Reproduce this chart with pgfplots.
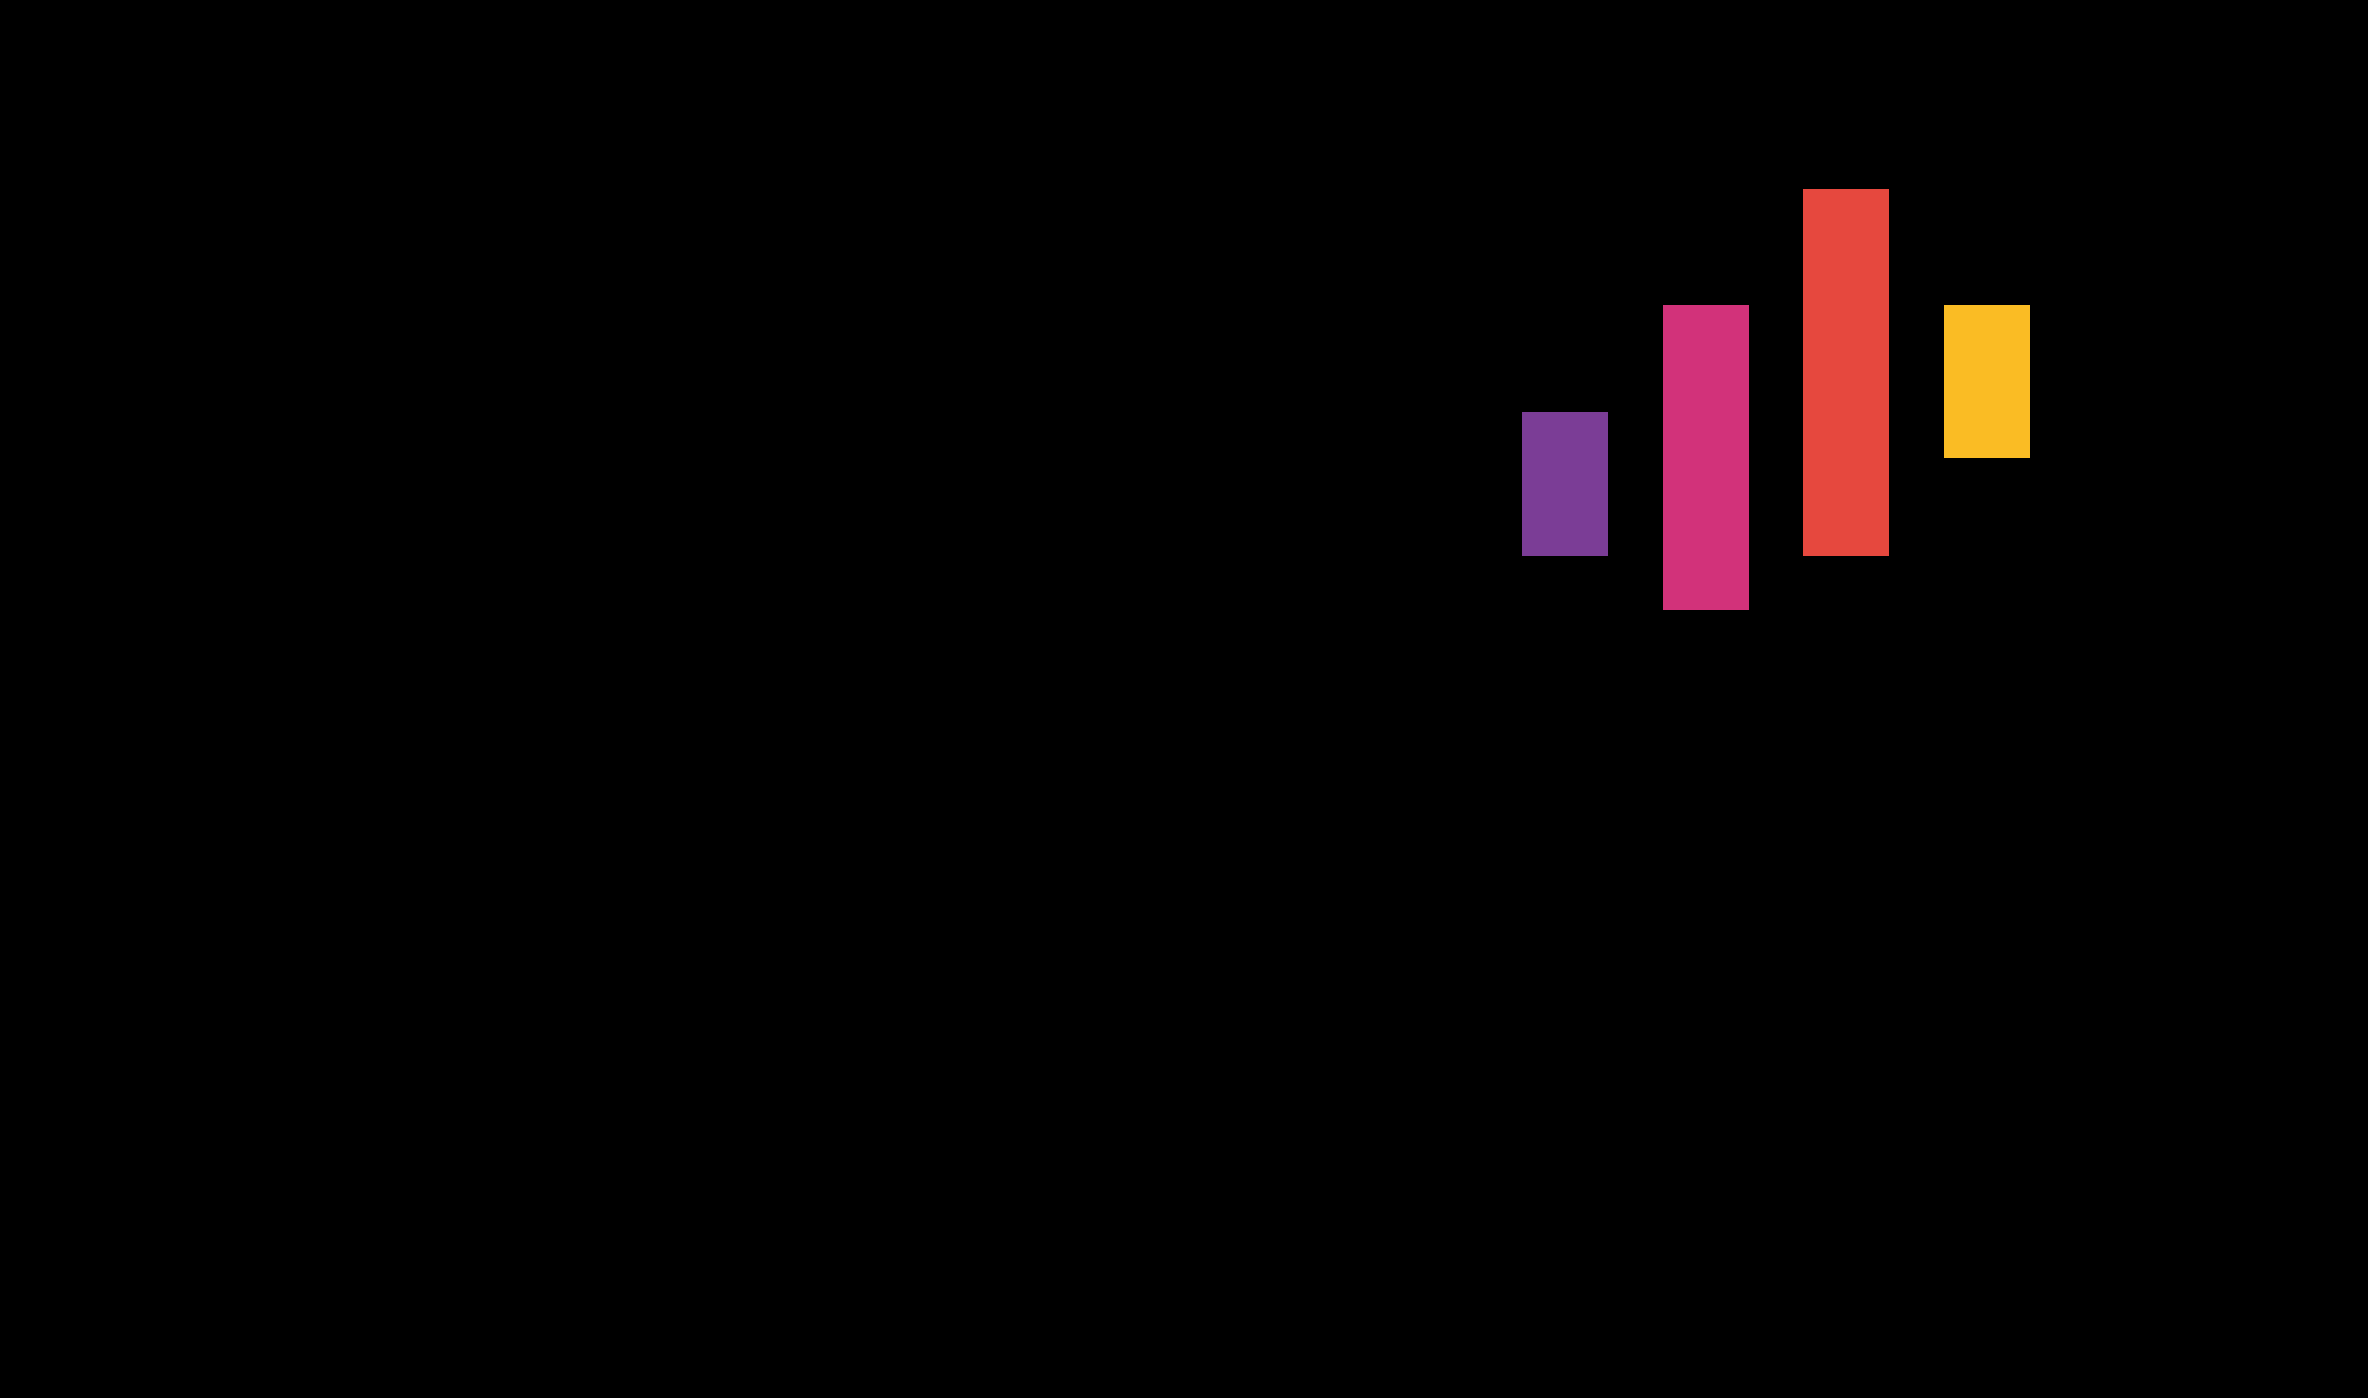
\documentclass[border=0pt]{standalone}
\usepackage{pgfplots}
\pgfplotsset{compat=1.18}
\definecolor{PURPLE}{RGB}{123,61,150}
\definecolor{PINK}{RGB}{210,50,122}
\definecolor{RED}{RGB}{230,72,62}
\definecolor{YELLOW}{RGB}{250,188,36}
\begin{document}
\begin{tikzpicture}
\begin{axis}[
    scale only axis,
    width=23.68cm, height=13.98cm,
    xmin=-10.123, xmax=6.707,
    ymin=0, ymax=1398,
    axis lines=none,
    ticks=none,
    axis background/.style={fill=black},
    ybar stacked,
    bar width=0.611,
    every axis plot/.append style={draw=none},
]
% invisible base of each floating bar
\addplot[fill=none, draw=none] coordinates {(1,842) (2,788) (3,842) (4,940)};
\addplot[fill=PURPLE] coordinates {(1,144) (2,0) (3,0) (4,0)};
\addplot[fill=PINK]   coordinates {(1,0) (2,305) (3,0) (4,0)};
\addplot[fill=RED]    coordinates {(1,0) (2,0) (3,367) (4,0)};
\addplot[fill=YELLOW] coordinates {(1,0) (2,0) (3,0) (4,153)};
\end{axis}
\end{tikzpicture}
\end{document}
